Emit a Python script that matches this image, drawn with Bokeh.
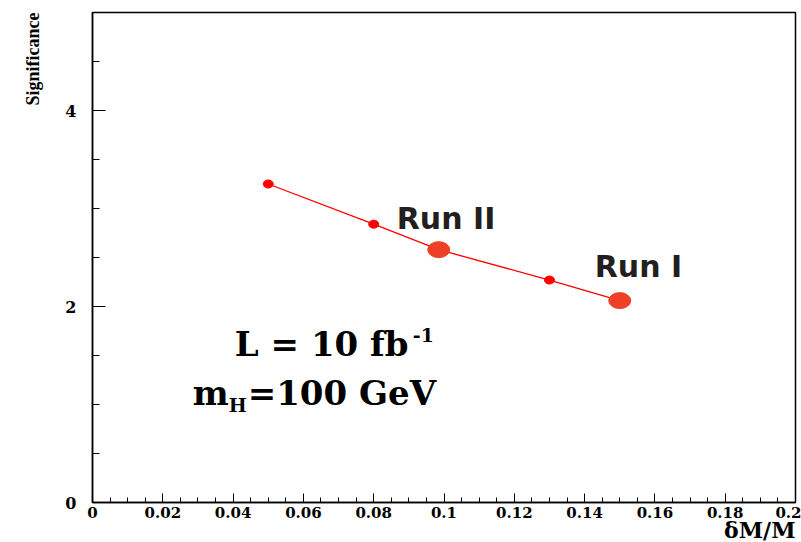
import math
from bokeh.plotting import figure
from bokeh.models import Range1d, FixedTicker, CustomJSTickFormatter, Label, Title
from bokeh.embed import file_html
from bokeh.resources import INLINE

# ---- data ----
scan_dm = [0.05, 0.08, 0.13]
scan_sig = [3.25, 2.84, 2.27]
run_names = ["Run II", "Run I"]
run_dm = [0.0985, 0.15]
run_sig = [2.58, 2.06]
x_ticks = [0.0, 0.02, 0.04, 0.06, 0.08, 0.1, 0.12, 0.14, 0.16, 0.18, 0.2]
y_ticks = [0, 2, 4]
x_title = "δM/M"
y_title = "Significance"

pts = sorted(zip(scan_dm + run_dm, scan_sig + run_sig))
line_x = [p_[0] for p_ in pts]
line_y = [p_[1] for p_ in pts]

p = figure(width=801, height=542, output_backend="svg", toolbar_location=None,
           x_range=Range1d(0, 0.2), y_range=Range1d(0, 5),
           min_border_left=92, min_border_right=6, min_border_top=12, min_border_bottom=40)
p.background_fill_color = "white"
p.border_fill_color = "white"
p.outline_line_color = "black"
p.outline_line_width = 1.5
p.xgrid.visible = False
p.ygrid.visible = False

# x axis
xa = p.xaxis[0]
xa.ticker = FixedTicker(ticks=x_ticks,
                        minor_ticks=[round(i * 0.005, 3) for i in range(41)])
xa.formatter = CustomJSTickFormatter(code="return String(parseFloat(tick.toFixed(3)));")
xa.major_tick_in = 9
xa.major_tick_out = 0
xa.minor_tick_in = 5
xa.minor_tick_out = 0
xa.axis_line_width = 1.5
xa.major_label_standoff = 4
xa.major_label_text_font = "DejaVu Serif"
xa.major_label_text_font_style = "bold"
xa.major_label_text_font_size = "15px"
xa.major_label_text_color = "black"

# y axis
ya = p.yaxis[0]
ya.ticker = FixedTicker(ticks=y_ticks, minor_ticks=[i * 0.5 for i in range(11)])
ya.major_tick_in = 13
ya.major_tick_out = 0
ya.minor_tick_in = 7
ya.minor_tick_out = 0
ya.axis_line_width = 1.5
ya.major_label_standoff = 16
ya.major_label_text_font = "DejaVu Serif"
ya.major_label_text_font_style = "bold"
ya.major_label_text_font_size = "16px"
ya.major_label_text_color = "black"

# axis titles as side-panel titles aligned to the far ends
p.add_layout(Title(text=x_title, align="right", standoff=-11, offset=0,
                   text_font="DejaVu Serif", text_font_style="bold",
                   text_font_size="22px", text_color="black"), "below")
p.add_layout(Title(text=y_title, align="right", standoff=39, offset=0,
                   text_font="Liberation Serif", text_font_style="bold",
                   text_font_size="18px", text_color="black"), "left")

# curve
p.line(line_x, line_y, line_color="red", line_width=1.3)
p.ellipse(x=scan_dm, y=scan_sig, width=10, height=8, width_units="screen",
          height_units="screen", fill_color="red", line_color="red")
p.ellipse(x=run_dm, y=run_sig, width=22, height=16, width_units="screen",
          height_units="screen", fill_color="#EE4027", line_color="#EE4027")

# run labels
sans = dict(text_font="DejaVu Sans", text_font_style="bold", text_font_size="30px",
            text_color="#231F20", text_baseline="alphabetic", text_align="left")
p.add_layout(Label(x=run_dm[0], y=run_sig[0], x_offset=-42, y_offset=31,
                   text=run_names[0], **sans))
p.add_layout(Label(x=run_dm[1], y=run_sig[1], x_offset=-25, y_offset=34,
                   text=run_names[1], **sans))

# annotations: luminosity and Higgs mass
serif = dict(text_font="DejaVu Serif", text_font_style="bold", text_color="black",
             text_baseline="alphabetic", text_align="left")
p.add_layout(Label(x=0.0405, y=1.5, y_offset=12, text="L = 10 fb", text_font_size="34px", **serif))
p.add_layout(Label(x=0.0405, y=1.5, x_offset=178, y_offset=21, text="-1",
                   text_font_size="19px", **serif))
p.add_layout(Label(x=0.0285, y=1.0, y_offset=12, text="m", text_font_size="34px", **serif))
p.add_layout(Label(x=0.0285, y=1.0, x_offset=36, y_offset=0, text="H",
                   text_font_size="19px", **serif))
p.add_layout(Label(x=0.0285, y=1.0, x_offset=55, y_offset=12, text="=100 GeV",
                   text_font_size="34px", **serif))

open("out.html", "w").write(file_html(p, INLINE))
